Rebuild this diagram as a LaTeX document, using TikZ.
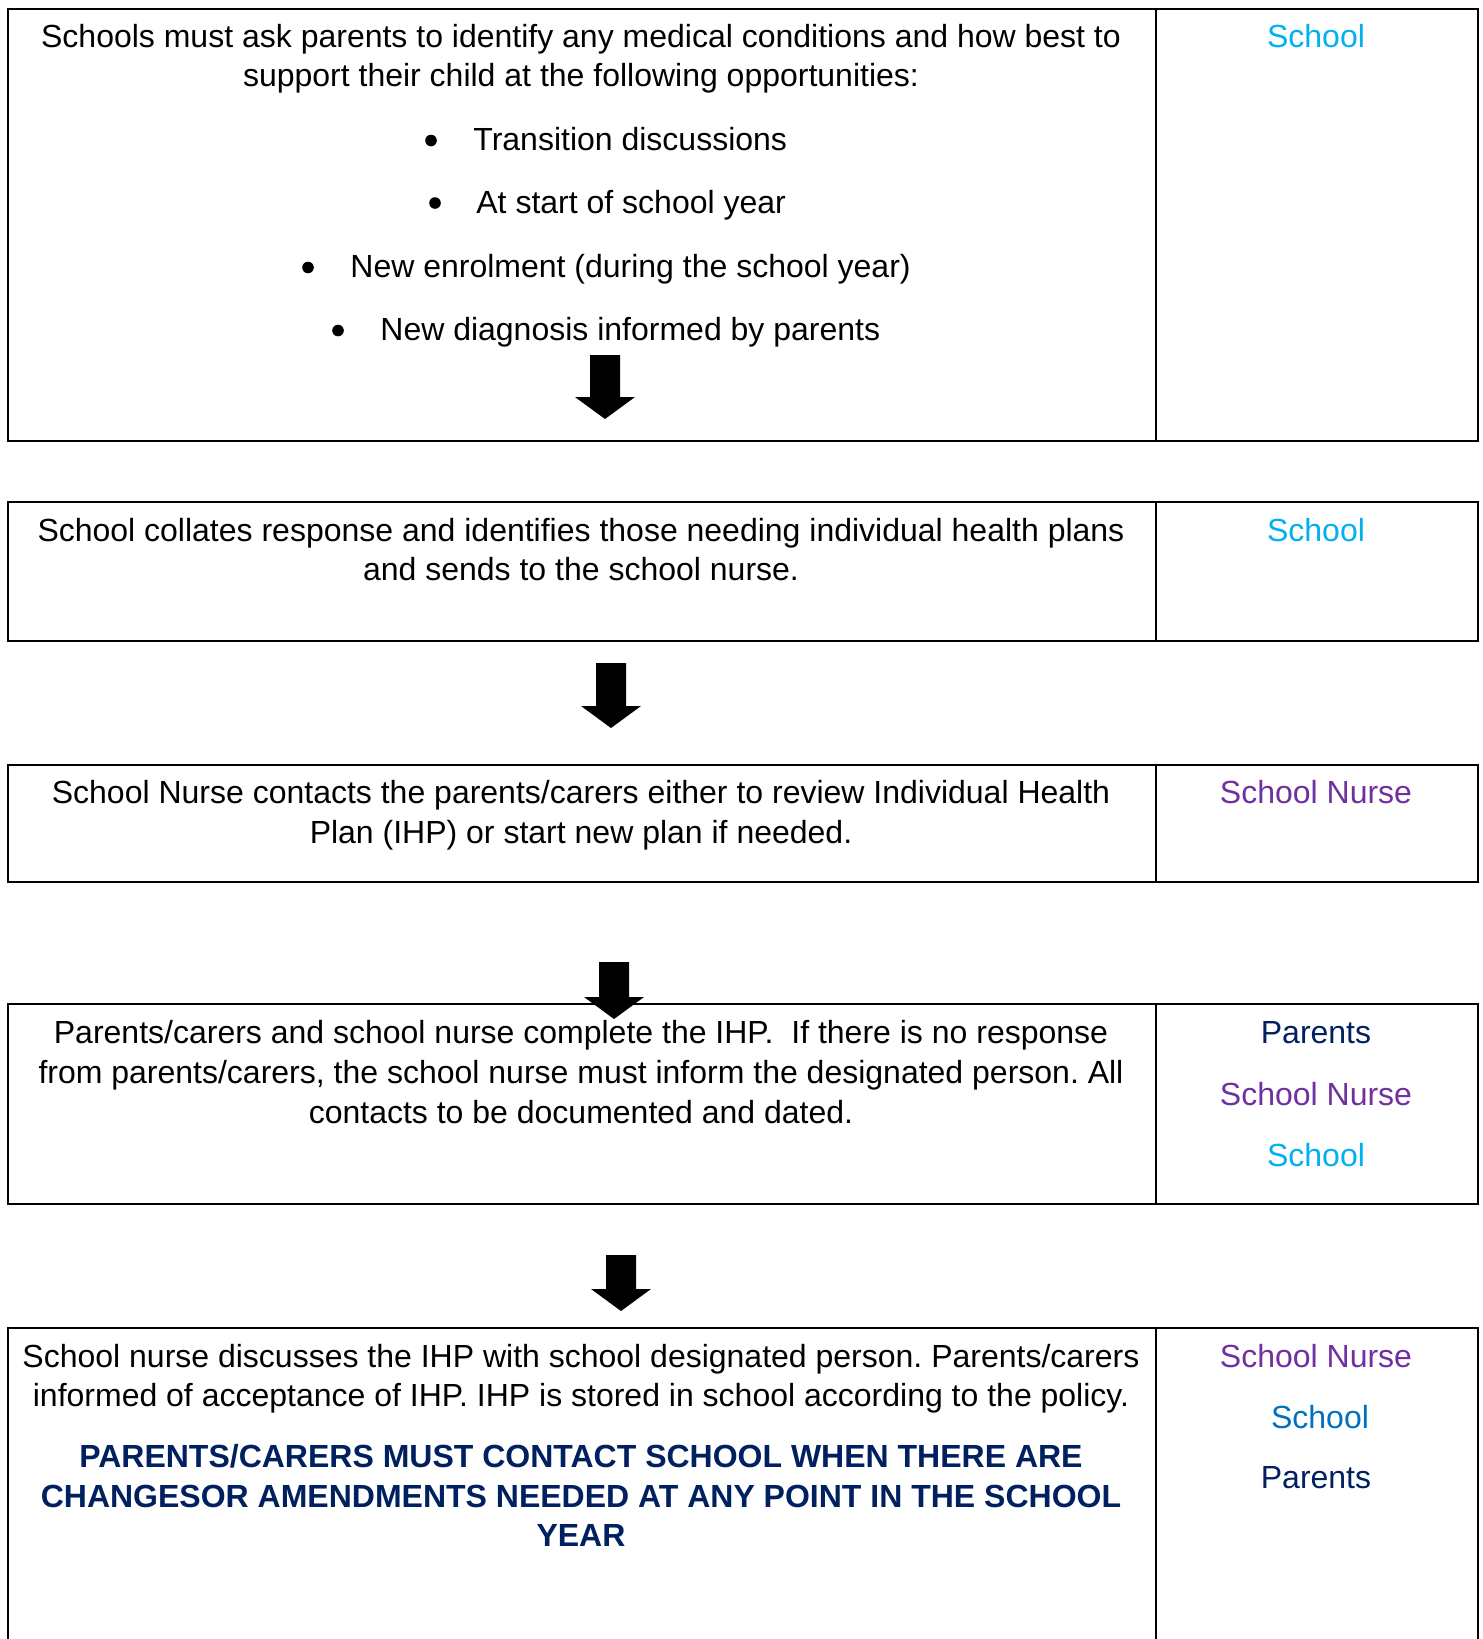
\documentclass[tikz,border=0pt]{standalone}
\usepackage{fontspec}
\setmainfont{Liberation Sans}
\frenchspacing
\definecolor{schoolc}{HTML}{00B0F0}
\definecolor{nursec}{HTML}{7030A0}
\definecolor{parentc}{HTML}{002060}
\definecolor{schooltwo}{HTML}{0070C0}
\newcommand\bodyfont{\fontsize{16pt}{20pt}\selectfont}
\newcommand\blkarrow[4]{%
  \coordinate (#1) at (#2,#3);
  \fill (#1) ++(-15,0) -- ++(30,0) -- (#2+15,#4) -- (#2+30,#4) -- (#2,#4+22) -- (#2-30,#4) -- (#2-15,#4) -- cycle;}
\tikzset{
  line/.style={anchor=base, inner sep=0pt, font=\bodyfont},
  caps/.style={anchor=base, inner sep=0pt, font=\bodyfont\bfseries, text=parentc},
  boxline/.style={line width=1pt},
  divline/.style={line width=0.7pt},
  bul/.style={circle, fill=black, inner sep=0pt, minimum size=5.8pt},
}
\begin{document}
\begin{tikzpicture}[x=0.5pt,y=-0.5pt]
\useasboundingbox (0,0) rectangle (1483,1639);
% boxes
\draw[boxline] (8,9) rectangle (1478,441);
\draw[divline] (1156,9) -- (1156,441);
\draw[boxline] (8,502) rectangle (1478,641);
\draw[divline] (1156,502) -- (1156,641);
\draw[boxline] (8,765) rectangle (1478,882);
\draw[divline] (1156,765) -- (1156,882);
\draw[boxline] (8,1004) rectangle (1478,1204);
\draw[divline] (1156,1004) -- (1156,1204);
\draw[boxline] (8,1639) -- (8,1328) -- (1478,1328) -- (1478,1639);
\draw[divline] (1156,1328) -- (1156,1639);

% box 1
\node[line] (b1a) at (581,47) {Schools must ask parents to identify any medical conditions and how best to};
\node[line] (b1b) at (581,86) {support their child at the following opportunities:};
\node[bul] (u1) at (431,140.5) {};
\node[line,anchor=base west] (i1) at (473,150.5) {Transition discussions};
\node[bul] (u2) at (435,203) {};
\node[line,anchor=base west] (i2) at (476,213) {At start of school year};
\node[bul] (u3) at (308,267.5) {};
\node[line,anchor=base west] (i3) at (350,277.5) {New enrolment (during the school year)};
\node[bul] (u4) at (338,330.5) {};
\node[line,anchor=base west] (i4) at (380,340.5) {New diagnosis informed by parents};
\node[line,text=schoolc] (r1) at (1316,47) {School};
\blkarrow{a1}{605}{355}{397}

% box 2
\node[line] (b2a) at (581,541) {School collates response and identifies those needing individual health plans};
\node[line] (b2b) at (581,580) {and sends to the school nurse.};
\node[line,text=schoolc] (r2) at (1316,541) {School};
\blkarrow{a2}{611}{663}{706}

% box 3
\node[line] (b3a) at (581,803) {School Nurse contacts the parents/carers either to review Individual Health};
\node[line] (b3b) at (581,843) {Plan (IHP) or start new plan if needed.};
\node[line,text=nursec] (r3) at (1316,803) {School Nurse};

% box 4
\node[line] (b4a) at (581,1043) {Parents/carers and school nurse complete the IHP.\ \ If there is no response};
\node[line] (b4b) at (581,1083) {from parents/carers, the school nurse must inform the designated person. All};
\node[line] (b4c) at (581,1123) {contacts to be documented and dated.};
\node[line,text=parentc] (r4a) at (1316,1043) {Parents};
\node[line,text=nursec] (r4b) at (1316,1105) {School Nurse};
\node[line,text=schoolc] (r4c) at (1316,1166) {School};
\blkarrow{a4}{614}{962}{997}

% box 5
\node[line] (b5a) at (581,1367) {School nurse discusses the IHP with school designated person. Parents/carers};
\node[line] (b5b) at (581,1406) {informed of acceptance of IHP. IHP is stored in school according to the policy.};
\node[caps] (c1) at (581,1467) {PARENTS/CARERS MUST CONTACT SCHOOL WHEN THERE ARE};
\node[caps] (c2) at (581,1507) {CHANGESOR AMENDMENTS NEEDED AT ANY POINT IN THE SCHOOL};
\node[caps] (c3) at (581,1546) {YEAR};
\node[line,text=nursec] (r5a) at (1316,1367) {School Nurse};
\node[line,text=schooltwo] (r5b) at (1320,1428) {School};
\node[line,text=parentc] (r5c) at (1316,1488) {Parents};
\blkarrow{a5}{621}{1255}{1289}
\end{tikzpicture}
\end{document}
